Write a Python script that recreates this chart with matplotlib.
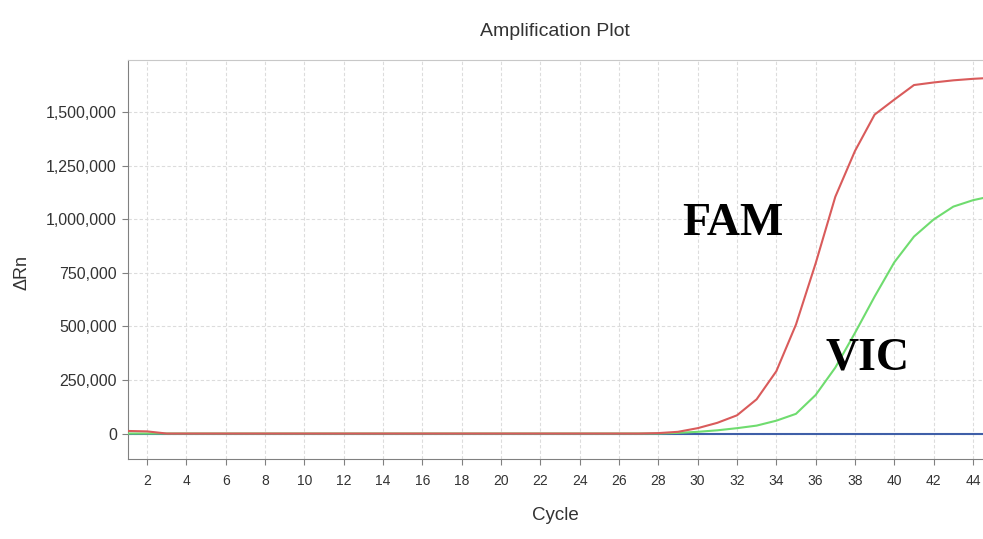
import matplotlib
matplotlib.use("Agg")
import matplotlib.pyplot as plt
from matplotlib.ticker import FuncFormatter

cycles = list(range(1, 46))

fam = [12000, 10000, 0, 0, 0, 0, 0, 0, 0, 0,
       0, 0, 0, 0, 0, 0, 0, 0, 0, 0,
       0, 0, 0, 0, 0, 0, 0, 2000, 8000, 25000,
       50000, 85000, 160000, 291000, 509000, 795000, 1106000, 1320000, 1490000, 1560000,
       1628000, 1640000, 1650000, 1657000, 1662000]

vic = [0, 0, 0, 0, 0, 0, 0, 0, 0, 0,
       0, 0, 0, 0, 0, 0, 0, 0, 0, 0,
       0, 0, 0, 0, 0, 0, 0, 0, 3000, 8000,
       15000, 25000, 37000, 60000, 92000, 180000, 308000, 470000, 640000, 800000,
       920000, 1000000, 1060000, 1090000, 1110000]

ntc = [0] * 45

yticks = [0, 250000, 500000, 750000, 1000000, 1250000, 1500000]
xticks = list(range(2, 45, 2))

sans = ["Liberation Sans", "DejaVu Sans"]
serif = ["Liberation Serif", "DejaVu Serif"]

fig = plt.figure(figsize=(9.83, 5.39), dpi=100)
ax = fig.add_axes([128 / 983, 1 - 459 / 539, 1 - 128 / 983, (459 - 60) / 539])

ax.plot(cycles, ntc, color="#3f5fa8", lw=1.5, zorder=2)
ax.plot(cycles, vic, color="#6fdc6f", lw=1.5, zorder=3)
ax.plot(cycles, fam, color="#d95b5b", lw=1.5, zorder=4)

ax.set_xlim(1.034, 44.51)
ax.set_ylim(-119000, 1745000)
ax.set_xticks(xticks)
ax.set_yticks(yticks)
ax.yaxis.set_major_formatter(FuncFormatter(lambda v, p: f"{int(v):,}"))

ax.grid(True, color="#dcdcdc", ls=(0, (3, 2)), lw=0.8, zorder=0)
for s in ["left", "bottom"]:
    ax.spines[s].set_color("#808080")
ax.spines["top"].set_color("#c8c8c8")
ax.spines["right"].set_visible(False)
ax.tick_params(axis="both", direction="out", length=4, color="#808080", width=0.8)
ax.tick_params(axis="y", labelsize=11.5, labelcolor="#333333", pad=4)
ax.tick_params(axis="x", labelsize=10, labelcolor="#333333", pad=7)
for lab in ax.get_xticklabels() + ax.get_yticklabels():
    lab.set_family(sans)

fig.text(555 / 983, 1 - 32 / 539, "Amplification Plot", ha="center", va="center",
         fontsize=14, family=sans, color="#333333")
fig.text(555 / 983, 1 - 515 / 539, "Cycle", ha="center", va="center",
         fontsize=13.5, family=sans, color="#333333")
fig.text(22 / 983, 1 - 272 / 539, "ΔRn", ha="center", va="center", rotation=90,
         fontsize=13, family=sans, color="#333333")

ax.text(29.2, 927000, "FAM", fontsize=33, fontweight="bold", family=serif,
        color="black", va="baseline", ha="left")
ax.text(36.5, 297000, "VIC", fontsize=33, fontweight="bold", family=serif,
        color="black", va="baseline", ha="left")

fig.savefig("out.png", dpi=100)
